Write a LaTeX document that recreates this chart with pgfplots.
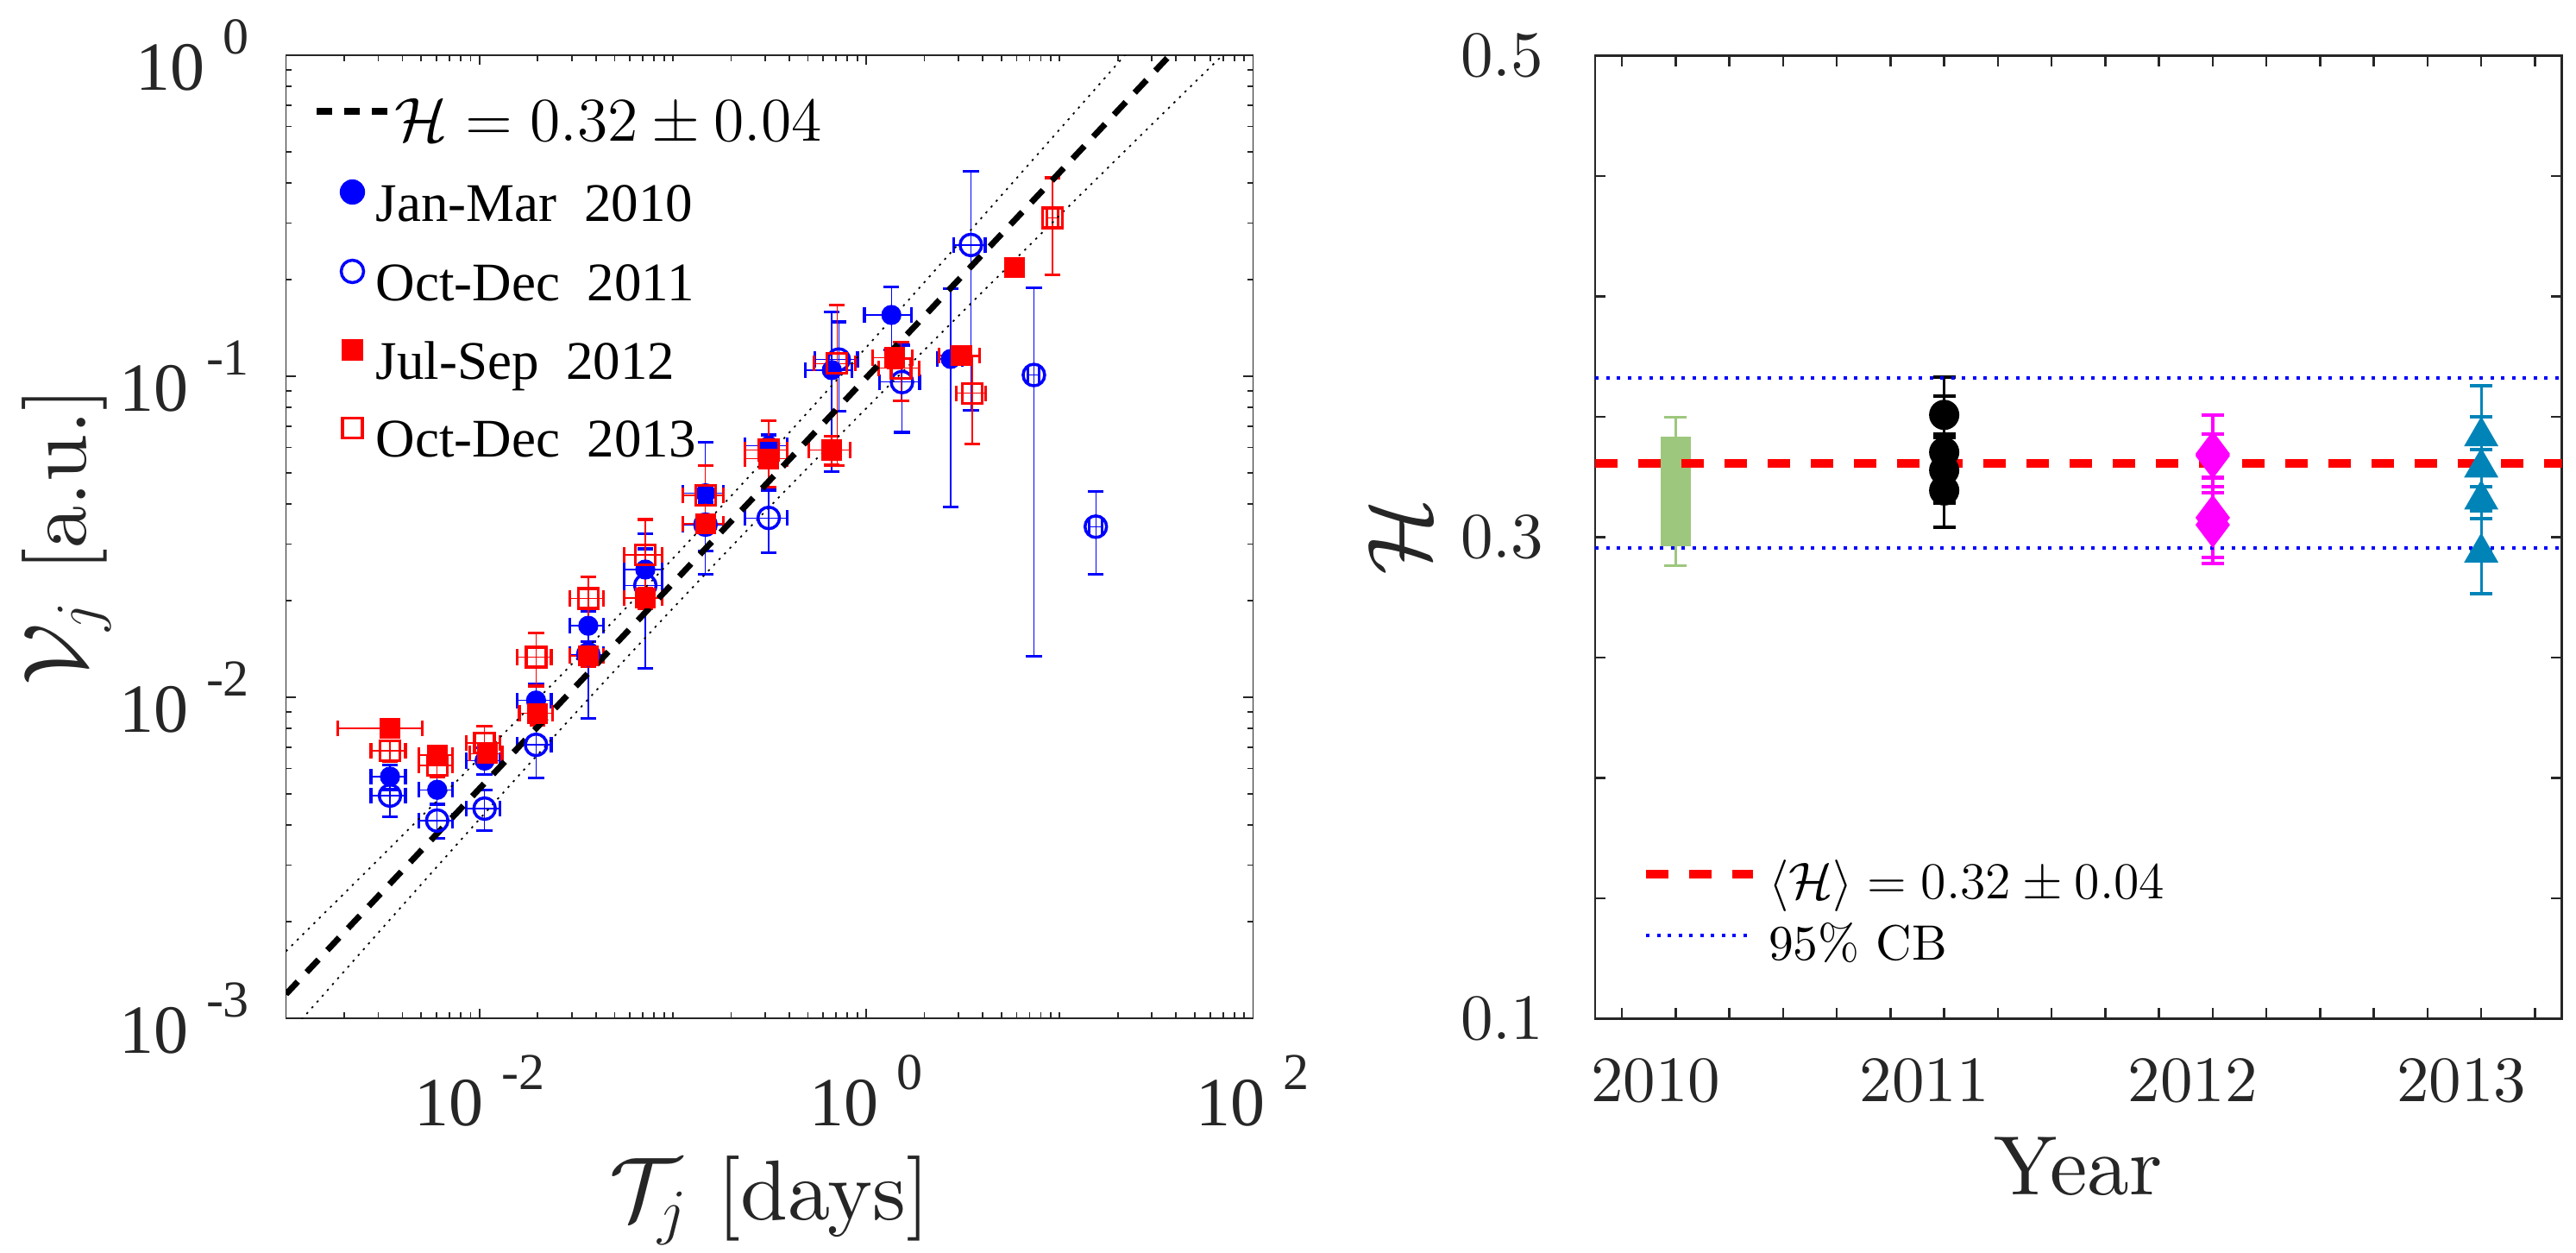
\documentclass[border=0pt]{standalone}
\usepackage{fontspec}
\usepackage{pgfplots}
\pgfplotsset{compat=1.18}
\newfontfamily\tnr{Liberation Serif}
\newfontfamily\cmten{lmroman10-regular.otf}
\definecolor{axgray}{gray}{0.15}
\definecolor{mgreen}{RGB}{157,199,125}
\definecolor{mtri}{RGB}{0,132,184}
\definecolor{mmag}{RGB}{255,0,255}
\newcommand{\tl}[1]{{\tnr\fontsize{16}{16}\selectfont 10\hspace{4.2pt}\raisebox{8.3pt}{\fontsize{12}{12}\selectfont #1}}}
\pgfplotsset{
  mkleg/.style={legend image code/.code={\draw[##1, mark size=#1] plot coordinates {(0pt,3.7pt)};}},
  leftEB/.style={error bars/.cd, x dir=both, x explicit, y dir=both, y explicit,
     error bar style={line width=0.27pt},
     error mark options={rotate=90, mark size=1.85pt, line width=0.65pt}},
  rightEB/.style={error bars/.cd, y dir=both, y explicit,
     error bar style={line width=0.65pt},
     error mark options={rotate=90, mark size=2.6pt, line width=0.8pt}},
}
\begin{document}
\begin{tikzpicture}
\path[use as bounding box] (0,0) rectangle (597.2pt,290.2pt);
%================ LEFT =================
\begin{axis}[
  at={(66.3pt,54.2pt)}, anchor=south west, scale only axis,
  width=224.2pt, height=223.2pt,
  xmode=log, ymode=log, xmin=1e-3, xmax=1e2, ymin=1e-3, ymax=1,
  xtick={1e-2,1,1e2}, xticklabels={\tl{-2},\tl{0},\tl{2}},
  ytick={1e-3,1e-2,1e-1,1}, yticklabels={\tl{-3},\tl{-2},\tl{-1},\tl{0}},
  minor xtick={0.002,0.003,0.004,0.005,0.006,0.007,0.008,0.009,0.02,0.03,0.04,0.05,0.06,0.07,0.08,0.09,0.1,0.2,0.3,0.4,0.5,0.6,0.7,0.8,0.9,2,3,4,5,6,7,8,9,10,20,30,40,50,60,70,80,90},
  minor ytick={0.002,0.003,0.004,0.005,0.006,0.007,0.008,0.009,0.02,0.03,0.04,0.05,0.06,0.07,0.08,0.09,0.2,0.3,0.4,0.5,0.6,0.7,0.8,0.9},
  major tick length=2.3pt, minor tick length=1.4pt,
  axis line style={axgray, line width=0.35pt},
  tick style={axgray, line width=0.35pt},
  ticklabel style={text=axgray, inner sep=0pt},
  xticklabel style={anchor=north, yshift=-8.4pt},
  yticklabel style={anchor=east, xshift=-8.3pt},
  xlabel={$\mathcal{T}_j$ [days]},
  xlabel style={at={(axis description cs:0.5,-0.2088)}, anchor=base, font=\cmten\fontsize{19.7}{22}\selectfont, text=axgray},
  ylabel={$\mathcal{V}_j$ [a.u.]},
  ylabel style={at={(axis description cs:-0.207,0.5)}, anchor=base, font=\cmten\fontsize{19.7}{22}\selectfont, text=axgray},
  legend style={draw=none, fill=none, inner sep=0pt,
     at={(axis description cs:0,1)}, anchor=north west, xshift=12.4pt, yshift=-10.1pt,
     font=\tnr\fontsize{12.6}{14}\selectfont, row sep=6.1pt, column sep=2.7pt,
     nodes={inner sep=0pt, text height=9pt, text depth=3pt}},
  legend cell align=left,
]
\addlegendimage{legend image code/.code={
   \draw[overlay, black, line width=1.6pt, dash pattern=on 3.6pt off 2.8pt] (-8.2pt,3.9pt) -- (8.2pt,3.9pt);
   \path[draw=none, fill=none] (-2.8pt,1pt) rectangle (2.8pt,6.5pt);}}
\addlegendentry{\hspace{4.4pt}\fontsize{15.5}{16}\selectfont$\mathcal{H}=0.32\pm0.04$}

% Jan-Mar 2010
\addplot[blue, only marks, mark=*, mark size=2.2pt, line width=0.27pt, mkleg=2.8pt, leftEB]
coordinates {
(0.00345,0.00566) +- (0.0007,0.0005)
(0.00605,0.00515) +- (0.0012,0.0005)
(0.01064,0.00635) +- (0.0021,0.0006)
(0.01963,0.00977) +- (0.0039,0.0012)
(0.03656,0.0167) +- (0.0073,0.0018)
(0.0721,0.0250) +- (0.016,0.004)
(0.1476,0.0432) +- (0.035,0.019)
(0.3133,0.0607) +- (0.077,0.005)
(0.6637,0.1045) +- (0.18,0.054)
(1.349,0.1552) +- (0.37,0.0345)
(2.735,0.1132) +- (0.4,0.074)
};
\addlegendentry{Jan-Mar\ \ 2010}

% Oct-Dec 2011
\addplot[blue, only marks, mark=o, mark size=2.5pt, line width=0.27pt, mark options={line width=0.7pt}, mkleg=2.6pt, leftEB]
coordinates {
(0.00345,0.00494) +- (0.0007,0.0007)
(0.00605,0.00413) +- (0.0012,0.0005)
(0.01064,0.00450) +- (0.0021,0.00065)
(0.01963,0.00711) +- (0.0039,0.0015)
(0.03656,0.0136) +- (0.0073,0.005)
(0.0721,0.0223) +- (0.016,0.010)
(0.1476,0.0345) +- (0.035,0.006)
(0.3133,0.0362) +- (0.077,0.008)
(0.721,0.1127) +- (0.18,0.035)
(1.531,0.0959) +- (0.36,0.029)
(3.475,0.2564) +- (0.65,0.178)
(7.362,0.1009) +- (0.5,0.0875)
(15.38,0.0340) +- (1.2,0.0098)
};
\addlegendentry{Oct-Dec\ \ 2011}

% Jul-Sep 2012
\addplot[red, only marks, mark=square*, mark size=2.3pt, line width=0.27pt, mkleg=2.4pt, leftEB]
coordinates {
(0.00345,0.0080) +- (0.0016,0.0004)
(0.00605,0.0066) +- (0.0012,0.0004)
(0.0110,0.00668) +- (0.0021,0.0004)
(0.0200,0.00891) +- (0.0039,0.0007)
(0.03656,0.01346) +- (0.0073,0.001)
(0.0721,0.0204) +- (0.016,0.0015)
(0.1476,0.0347) +- (0.035,0.002)
(0.3133,0.0553) +- (0.077,0.003)
(0.6637,0.0589) +- (0.16,0.006)
(1.406,0.1143) +- (0.33,0.008)
(3.112,0.1159) +- (0.73,0.006)
(5.848,0.2183) +- (0,0)
};
\addlegendentry{Jul-Sep\ \ 2012}

% Oct-Dec 2013
\addplot[red, only marks, mark=square, mark size=2.3pt, line width=0.27pt, mark options={line width=0.7pt}, mkleg=2.3pt, leftEB]
coordinates {
(0.00345,0.00681) +- (0.0007,0.0005)
(0.00605,0.00614) +- (0.0012,0.0005)
(0.01064,0.00721) +- (0.0021,0.0009)
(0.01963,0.01334) +- (0.0039,0.0025)
(0.03656,0.0203) +- (0.0073,0.0034)
(0.0721,0.0278) +- (0.016,0.008)
(0.1476,0.0426) +- (0.035,0.010)
(0.3133,0.0589) +- (0.077,0.0137)
(0.706,0.1096) +- (0.17,0.057)
(1.517,0.1059) +- (0.36,0.022)
(3.532,0.0885) +- (0.6,0.027)
(9.183,0.311) +- (0.6,0.104)
};
\addlegendentry{Oct-Dec\ \ 2013}

% confidence bands (dotted)
\addplot[black, line width=0.35pt, dash pattern=on 0.5pt off 1.3pt, forget plot, smooth]
coordinates {(0.001,0.001618) (0.003162,0.003221) (0.01,0.006457) (0.03162,0.01309) (0.1,0.02704) (0.3162,0.05715) (1,0.1230) (3.162,0.2679) (10,0.5875) (31.62,1.294) (100,2.864)};
\addplot[black, line width=0.35pt, dash pattern=on 0.5pt off 1.3pt, forget plot, smooth]
coordinates {(0.001,0.000873) (0.003162,0.001914) (0.01,0.004169) (0.03162,0.008974) (0.1,0.01892) (0.3162,0.03917) (1,0.07943) (3.162,0.1592) (10,0.3170) (31.62,0.6281) (100,1.239)};
% fit
\addplot[black, line width=1.4pt, dash pattern=on 4pt off 3pt, forget plot]
coordinates {(0.001,0.001189) (100,1.884)};
\end{axis}

%================ RIGHT =================
\begin{axis}[
  at={(369.8pt,54.1pt)}, anchor=south west, scale only axis,
  width=224.1pt, height=223.2pt,
  xmin=2009.7, xmax=2013.3, ymin=0.1, ymax=0.5,
  xtick={2010,2011,2012,2013}, xticklabels={2010,2011,2012,2013},
  minor xtick={2009.8,2010.2,2010.4,2010.6,2010.8,2011.2,2011.4,2011.6,2011.8,2012.2,2012.4,2012.6,2012.8,2013.2},
  ytick={0.1,0.3,0.5}, yticklabels={0.1,0.3,0.5},
  minor ytick={0.15,0.2,0.25,0.35,0.4,0.45},
  major tick length=2.5pt, minor tick length=2.5pt,
  axis line style={axgray, line width=0.5pt},
  tick style={axgray, line width=0.5pt},
  ticklabel style={font=\cmten\fontsize{15}{17}\selectfont, text=axgray, inner sep=0pt},
  xticklabel style={anchor=north, yshift=-9pt, xshift=-4.6pt},
  yticklabel style={anchor=east, xshift=-11.8pt},
  xlabel={Year},
  xlabel style={at={(axis description cs:0.5,-0.1832)}, anchor=base, font=\cmten\fontsize{19.5}{22}\selectfont, text=axgray},
  ylabel={$\mathcal{H}$},
  ylabel style={at={(axis description cs:-0.1705,0.5)}, anchor=base, font=\fontsize{20}{22}\selectfont, text=axgray},
  legend style={draw=none, fill=none, inner sep=0pt,
     at={(axis description cs:0,0)}, anchor=south west, xshift=10.6pt, yshift=10.5pt,
     font=\cmten\fontsize{11.5}{13}\selectfont, row sep=3.2pt, column sep=2.6pt,
     nodes={inner sep=0pt, text height=8pt, text depth=3pt}},
  legend cell align=left,
  legend image code/.code={\draw[#1] (0pt,3.2pt) -- (24.8pt,3.2pt);},
]
% 2010 box
\addplot[fill=mgreen, draw=none, forget plot] coordinates {(2009.943,0.2961) (2010.057,0.2961) (2010.057,0.3418) (2009.943,0.3418)} -- cycle;
\addplot[mgreen, mark=none, forget plot, line width=0.5pt, error bars/.cd, y dir=both, y explicit,
   error bar style={line width=0.5pt}, error mark options={rotate=90, mark size=2.6pt, line width=0.6pt}]
   coordinates {(2010,0.3189) +- (0,0.0309)};
% 2011
\addplot[black, only marks, mark=*, mark size=3.3pt, forget plot, rightEB]
coordinates {
(2011,0.3508) +- (0,0.0079)
(2011,0.3353) +- (0,0.0313)
(2011,0.3278) +- (0,0.0135)
(2011,0.3194) +- (0,0.005)
};
% 2012
\addplot[mmag, only marks, mark=diamond*, mark size=5pt, forget plot, rightEB]
coordinates {
(2012,0.3346) +- (0,0.0162)
(2012,0.3338) +- (0,0.009)
(2012,0.3081) +- (0,0.0164)
(2012,0.3051) +- (0,0.0159)
};
% 2013
\addplot[mtri, only marks, mark=triangle*, mark size=4.2pt, forget plot, rightEB]
coordinates {
(2013,0.3419) +- (0,0.0209)
(2013,0.3289) +- (0,0.0212)
(2013,0.3156) +- (0,0.0209)
(2013,0.2936) +- (0,0.0172)
};
% lines
\addplot[red, line width=2pt, dash pattern=on 5.2pt off 4.8pt] coordinates {(2009.7,0.3307) (2013.3,0.3307)};
\addlegendentry{$\langle\mathcal{H}\rangle = 0.32 \pm 0.04$}
\addplot[blue, line width=0.8pt, dash pattern=on 0.8pt off 1.7pt] coordinates {(2009.7,0.3660) (2013.3,0.3660)};
\addlegendentry{95\% CB}
\addplot[blue, line width=0.8pt, dash pattern=on 0.8pt off 1.7pt, forget plot] coordinates {(2009.7,0.2954) (2013.3,0.2954)};
\end{axis}
\end{tikzpicture}
\end{document}
